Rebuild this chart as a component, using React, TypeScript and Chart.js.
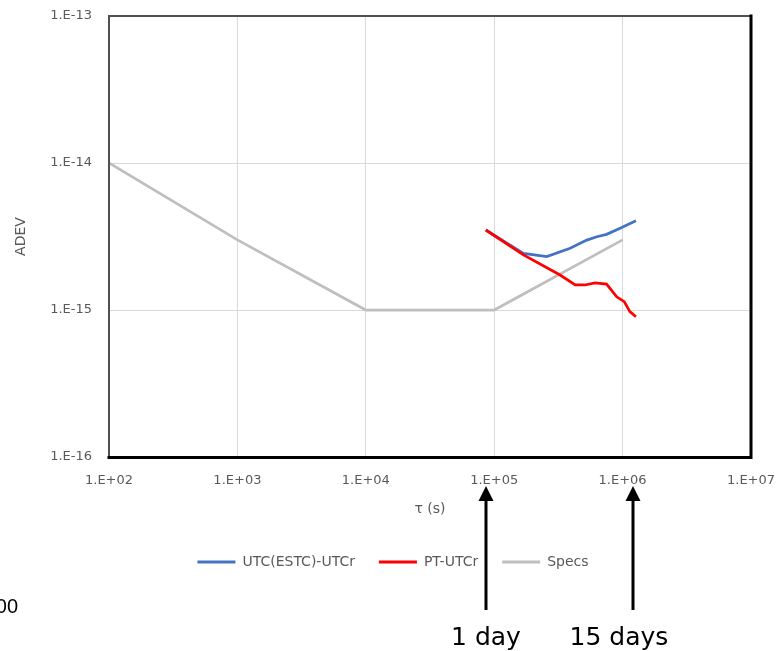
import React, { useEffect, useRef } from "react";
import { Chart, registerables } from "chart.js";

Chart.register(...registerables);

// ---- data ----
const seriesNames = ["UTC(ESTC)-UTCr", "PT-UTCr", "Specs"];
const seriesColors = ["#4472C4", "#FF0000", "#BFBFBF"];

const estcTau = [8.6e4, 1.69e5, 2.57e5, 3.9e5, 5.26e5, 6.3e5, 7.5e5, 9.56e5, 1.27e6];
const estcAdev = [3.5e-15, 2.43e-15, 2.31e-15, 2.63e-15, 2.99e-15, 3.15e-15, 3.27e-15, 3.6e-15, 4.05e-15];

const ptTau = [8.6e4, 1.69e5, 3.26e5, 4.27e5, 5.1e5, 6.1e5, 7.5e5, 9.0e5, 1.03e6, 1.14e6, 1.27e6];
const ptAdev = [3.5e-15, 2.37e-15, 1.73e-15, 1.48e-15, 1.48e-15, 1.53e-15, 1.5e-15, 1.23e-15, 1.14e-15, 9.75e-16, 9.0e-16];

const specsTau = [1e2, 1e3, 1e4, 1e5, 1e6];
const specsAdev = [1e-14, 3e-15, 1e-15, 1e-15, 3e-15];

const xTickExps = [2, 3, 4, 5, 6, 7];
const yTickExps = [-16, -15, -14, -13];

const xTitle = "τ (s)";
const yTitle = "ADEV";

const markerTaus = [86400, 1.2e6];
const markerLabels = ["1 day", "15 days"];
const cutText = "00";

// ---- helpers ----
function fmtExp(v: number): string {
  const e = Math.round(Math.log10(v));
  return `1.E${e < 0 ? "-" : "+"}${String(Math.abs(e)).padStart(2, "0")}`;
}

function toPoints(xs: number[], ys: number[]) {
  return xs.map((x, i) => ({ x, y: ys[i] }));
}

const FONT = '"DejaVu Sans", Verdana, sans-serif';
const GREY_TEXT = "#595959";

const framePlugin = {
  id: "frame",
  afterDatasetsDraw(chart: any) {
    const { ctx, chartArea: a } = chart;
    ctx.save();
    ctx.lineCap = "square";
    ctx.strokeStyle = "#505050";
    ctx.lineWidth = 2;
    ctx.beginPath();
    ctx.moveTo(a.left, a.bottom);
    ctx.lineTo(a.left, a.top);
    ctx.lineTo(a.right, a.top);
    ctx.stroke();
    ctx.strokeStyle = "#000000";
    ctx.lineWidth = 3;
    ctx.beginPath();
    ctx.moveTo(a.right, a.top);
    ctx.lineTo(a.right, a.bottom + 0.5);
    ctx.lineTo(a.left, a.bottom + 0.5);
    ctx.stroke();
    ctx.restore();
  },
};

const textShift = [0, -14];

const annotationPlugin = {
  id: "arrows",
  afterDraw(chart: any) {
    const { ctx } = chart;
    const xs = chart.scales.x;
    ctx.save();
    ctx.strokeStyle = "#000";
    ctx.fillStyle = "#000";
    ctx.lineWidth = 3;
    markerTaus.forEach((t, i) => {
      const px = Math.round(xs.getPixelForValue(t));
      ctx.beginPath();
      ctx.moveTo(px, 610);
      ctx.lineTo(px, 498);
      ctx.stroke();
      ctx.beginPath();
      ctx.moveTo(px, 486);
      ctx.lineTo(px - 7.5, 501);
      ctx.lineTo(px + 7.5, 501);
      ctx.closePath();
      ctx.fill();
      ctx.font = `25px ${FONT}`;
      ctx.textAlign = "center";
      ctx.textBaseline = "alphabetic";
      ctx.fillText(markerLabels[i], px + textShift[i], 645);
    });
    ctx.font = `20px "Liberation Sans", Arial, sans-serif`;
    ctx.textAlign = "right";
    ctx.fillText(cutText, 18, 613);
    ctx.restore();
  },
};

export default function App() {
  const ref = useRef<HTMLCanvasElement | null>(null);

  useEffect(() => {
    if (!ref.current) return;
    Chart.defaults.font.family = FONT;
    const chart = new Chart(ref.current, {
      type: "line",
      data: {
        datasets: [
          {
            label: seriesNames[0],
            data: toPoints(estcTau, estcAdev),
            borderColor: seriesColors[0],
            backgroundColor: seriesColors[0],
            borderWidth: 2.75,
            pointRadius: 0,
            tension: 0,
            order: 1,
          },
          {
            label: seriesNames[1],
            data: toPoints(ptTau, ptAdev),
            borderColor: seriesColors[1],
            backgroundColor: seriesColors[1],
            borderWidth: 2.75,
            pointRadius: 0,
            tension: 0,
            order: 0,
          },
          {
            label: seriesNames[2],
            data: toPoints(specsTau, specsAdev),
            borderColor: seriesColors[2],
            backgroundColor: seriesColors[2],
            borderWidth: 2.75,
            pointRadius: 0,
            tension: 0,
            order: 2,
          },
        ],
      },
      options: {
        responsive: false,
        animation: false,
        layout: { padding: { top: 16, left: 10, right: 0, bottom: 72 } },
        scales: {
          x: {
            type: "logarithmic",
            min: 1e2,
            max: 1e7,
            afterBuildTicks: (s: any) => {
              s.ticks = xTickExps.map((e) => ({ value: Math.pow(10, e) }));
            },
            afterFit: (s: any) => {
              s.height = 74;
              s.paddingLeft = 0;
              s.paddingRight = 0;
            },
            ticks: {
              callback: (v: any) => fmtExp(Number(v)),
              color: GREY_TEXT,
              font: { size: 13 },
              padding: 16,
              maxRotation: 0,
              autoSkip: false,
            },
            grid: { color: "#D9D9D9", drawTicks: false, lineWidth: 1 },
            border: { display: false },
            title: {
              display: true,
              text: xTitle,
              color: GREY_TEXT,
              font: { size: 14 },
              padding: { top: 0, bottom: 13 },
            },
          },
          y: {
            type: "logarithmic",
            min: 1e-16,
            max: 1e-13,
            afterBuildTicks: (s: any) => {
              s.ticks = yTickExps.map((e) => ({ value: Math.pow(10, e) }));
            },
            afterFit: (s: any) => {
              s.width = 99;
              s.paddingTop = 0;
              s.paddingBottom = 0;
            },
            ticks: {
              callback: (v: any) => fmtExp(Number(v)),
              color: GREY_TEXT,
              font: { size: 13 },
              padding: 17,
              autoSkip: false,
            },
            grid: { color: "#D9D9D9", drawTicks: false, lineWidth: 1 },
            border: { display: false },
            title: {
              display: true,
              text: yTitle,
              color: GREY_TEXT,
              font: { size: 14 },
              padding: { top: 3, bottom: 0 },
            },
          },
          yRight: {
            type: "linear",
            position: "right",
            display: true,
            ticks: { display: false },
            grid: { display: false },
            border: { display: false },
            afterFit: (s: any) => {
              s.width = 25;
              s.paddingTop = 0;
              s.paddingBottom = 0;
            },
          },
        },
        plugins: {
          legend: {
            position: "bottom",
            labels: {
              boxWidth: 38,
              boxHeight: 3,
              padding: 24,
              color: GREY_TEXT,
              font: { size: 14 },
              sort: (a: any, b: any) => a.datasetIndex - b.datasetIndex,
              generateLabels: (c: any) =>
                Chart.defaults.plugins.legend.labels
                  .generateLabels(c)
                  .map((l: any) => ({ ...l, lineWidth: 0 })),
            },
          },
          tooltip: { enabled: false },
        },
      },
      plugins: [framePlugin, annotationPlugin],
    } as any);
    return () => chart.destroy();
  }, []);

  return (
    <div style={{ position: "absolute", left: 0, top: 0, width: 776, height: 651 }}>
      <canvas ref={ref} width={776} height={651} style={{ width: 776, height: 651, display: "block" }} />
    </div>
  );
}
